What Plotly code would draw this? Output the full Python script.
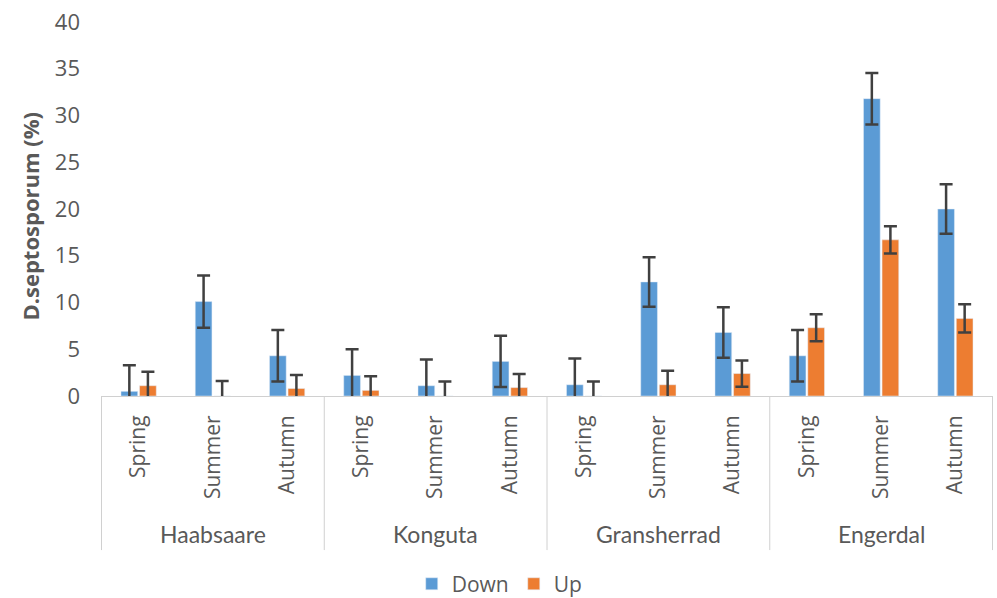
import plotly.graph_objects as go

groups = ["Haabsaare", "Konguta", "Gransherrad", "Engerdal"]
seasons = ["Spring", "Summer", "Autumn"]

down_vals = [0.5, 10.1, 4.3, 2.2, 1.1, 3.7, 1.2, 12.2, 6.8, 4.3, 31.8, 20.0]
down_err = [2.8, 2.8, 2.75, 2.8, 2.8, 2.75, 2.8, 2.65, 2.7, 2.75, 2.75, 2.65]
up_vals = [1.1, 0.0, 0.8, 0.6, 0.0, 0.9, 0.0, 1.2, 2.4, 7.3, 16.7, 8.3]
up_err = [1.5, 1.6, 1.45, 1.5, 1.55, 1.45, 1.55, 1.5, 1.4, 1.45, 1.45, 1.5]

y_ticks = [0, 5, 10, 15, 20, 25, 30, 35, 40]

cats = [f"{g}|{s}" for g in groups for s in seasons]
season_text = [s for g in groups for s in seasons]

GREY = "#595959"
ERR = "#404040"

fig = go.Figure()
fig.add_trace(go.Bar(
    x=cats, y=down_vals, name="Down", marker_color="#5B9BD5",
    error_y=dict(type="data", array=down_err, color=ERR, thickness=2.5, width=6.5),
))
fig.add_trace(go.Bar(
    x=cats, y=up_vals, name="Up", marker_color="#ED7D31",
    error_y=dict(type="data", array=up_err, color=ERR, thickness=2.5, width=6.5),
))

n = len(seasons)
shapes = []
for i in range(len(groups) + 1):
    xpos = i * n - 0.5
    shapes.append(dict(type="line", xref="x", yref="paper", x0=xpos, x1=xpos,
                       y0=0, y1=-0.412, line=dict(color="#d0d0d0", width=1)))

annotations = []
for i, g in enumerate(groups):
    annotations.append(dict(text=g, xref="x", yref="paper", x=cats[i * n + 1], y=-0.37,
                            showarrow=False, xanchor="center", yanchor="middle",
                            font=dict(family="Lato", size=23, color=GREY)))
annotations.append(dict(text="<b>D.septosporum (%)</b>", xref="paper", yref="paper",
                        x=-0.0795, y=0.48, textangle=-90, showarrow=False,
                        xanchor="center", yanchor="middle",
                        font=dict(family="Open Sans", size=22, color=GREY)))

fig.update_layout(
    width=997, height=598,
    margin=dict(l=101, r=4, t=22, b=202, autoexpand=False),
    plot_bgcolor="white", paper_bgcolor="white",
    barmode="group", bargap=0.5, bargroupgap=0.1,
    showlegend=True,
    legend=dict(orientation="h", x=0.447, y=-0.503, xanchor="center", yanchor="middle",
                font=dict(family="Open Sans", size=21, color=GREY)),
    shapes=shapes, annotations=annotations,
    xaxis=dict(tickmode="array", tickvals=cats, ticktext=season_text, tickangle=-90,
               showline=True, linecolor="#d0d0d0", linewidth=1, ticks="",
               showgrid=False, ticklabelstandoff=10, automargin=False,
               tickfont=dict(family="Open Sans", size=21, color=GREY)),
    yaxis=dict(range=[0, 40], tickvals=y_ticks, showgrid=False, zeroline=False,
               showline=False, ticks="", ticklabelstandoff=20, automargin=False,
               tickfont=dict(family="Open Sans", size=22, color=GREY)),
)

post = (
    "document.documentElement.style.margin='0';"
    "document.body.style.margin='0';"
    "document.documentElement.style.overflow='hidden';"
    "document.body.style.overflow='hidden';"
    "var d=document.querySelector('.plotly-graph-div');"
    "if(d){d.style.position='fixed';d.style.top='0';d.style.left='0';}"
)
fig.write_html("out.html", config={"displayModeBar": False}, post_script=post)
